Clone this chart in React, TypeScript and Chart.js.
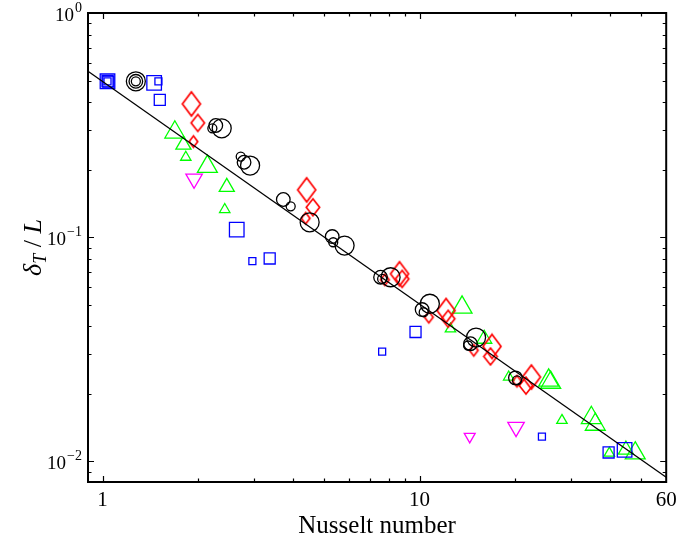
import React, { useEffect, useRef } from 'react';
import { Chart, registerables } from 'chart.js';

Chart.register(...registerables);

// Nusselt number (x) vs. delta_T / L (y)
const squaresSmall: [number, number][] = [
  [1.037, 0.496], [1.501, 0.496], [2.97, 0.0782], [7.623, 0.0309], [24.33, 0.01292],
];
const squaresMedium: [number, number][] = [
  [1.037, 0.496], [1.043, 0.494], [1.516, 0.41], [3.368, 0.0804], [9.714, 0.0378], [39.49, 0.01097],
];
const squaresLarge: [number, number][] = [
  [1.037, 0.496], [1.455, 0.488], [2.651, 0.1082], [44.35, 0.01127],
];

const circlesSmall: [number, number][] = [
  [1.274, 0.496], [2.221, 0.306], [2.729, 0.229], [3.923, 0.1374], [5.343, 0.095],
  [7.623, 0.0652], [10.31, 0.0463], [14.23, 0.0329], [20.3, 0.023],
];
const circlesMedium: [number, number][] = [
  [1.274, 0.496], [2.277, 0.315], [2.796, 0.216], [3.718, 0.1473], [5.304, 0.1007],
  [7.535, 0.0663], [10.19, 0.0476], [14.48, 0.0335], [20.07, 0.0236],
];
const circlesLarge: [number, number][] = [
  [1.274, 0.496], [2.377, 0.306], [2.921, 0.2088], [4.502, 0.1166], [5.803, 0.0918],
  [8.105, 0.0663], [10.78, 0.0505], [15.08, 0.0357],
];

const diamondsSmall: [number, number][] = [
  [1.935, 0.267], [4.374, 0.1215], [7.775, 0.0646], [10.7, 0.044], [14.83, 0.0313], [20.3, 0.0228],
];
const diamondsMedium: [number, number][] = [
  [1.998, 0.3236], [4.611, 0.136], [8.814, 0.0652], [12.31, 0.0433], [16.74, 0.0294], [21.67, 0.0218],
];
const diamondsLarge: [number, number][] = [
  [1.907, 0.3933], [4.406, 0.1627], [8.65, 0.0687], [12.13, 0.0471], [16.93, 0.0326], [22.54, 0.0238],
];

const trianglesSmall: [number, number][] = [
  [1.831, 0.2274], [2.43, 0.1329], [12.52, 0.039], [19.11, 0.0238], [28.14, 0.01524], [39.69, 0.01089],
];
const trianglesMedium: [number, number][] = [
  [1.8, 0.2582], [2.466, 0.1674], [16.0, 0.0352], [44.77, 0.01128],
];
const trianglesLarge: [number, number][] = [
  [1.691, 0.2938], [2.142, 0.2066], [13.62, 0.0487], [25.55, 0.023], [25.93, 0.0225],
  [34.83, 0.01566], [35.85, 0.01462], [47.92, 0.01089],
];

const downTrianglesSmall: [number, number][] = [[14.4, 0.01292]];
const downTrianglesLarge: [number, number][] = [[1.945, 0.1822], [20.16, 0.01422]];

const fitNu = [0.9, 60];
const fitDelta = [0.55, 0.0085];

const xTickValues = [1, 2, 3, 4, 5, 6, 7, 8, 9, 10, 20, 30, 40, 50, 60];
const xTickLabels = [1, 10, 60];
const xMajorTicks = [1, 10];
const yMajorTicks = [0.01, 0.1, 1];
const yMinorTicks = [0.009, 0.02, 0.03, 0.04, 0.05, 0.06, 0.07, 0.08, 0.09, 0.2, 0.3, 0.4, 0.5, 0.6, 0.7, 0.8, 0.9];
const yTickLabels = [
  { value: 1, base: '10', exp: '0' },
  { value: 0.1, base: '10', exp: '\u22121' },
  { value: 0.01, base: '10', exp: '\u22122' },
];

const FONT = '"Liberation Serif", "Times New Roman", Times, serif';

function toPoints(arr: [number, number][]) {
  return arr.map(([x, y]) => ({ x, y }));
}

function makeDiamond(a: number, b: number, color: string, lw: number) {
  const c = document.createElement('canvas');
  const w = Math.ceil(2 * a + lw + 2);
  const h = Math.ceil(2 * b + lw + 2);
  c.width = w;
  c.height = h;
  const g = c.getContext('2d')!;
  g.strokeStyle = color;
  g.lineWidth = lw;
  const cx = w / 2;
  const cy = h / 2;
  g.beginPath();
  g.moveTo(cx, cy - b);
  g.lineTo(cx + a, cy);
  g.lineTo(cx, cy + b);
  g.lineTo(cx - a, cy);
  g.closePath();
  g.stroke();
  return c;
}

const framePlugin = {
  id: 'framePlugin',
  afterDraw(chart: any) {
    const { ctx, chartArea: a, scales } = chart;
    const x = scales.x;
    const y = scales.y;
    ctx.save();
    ctx.strokeStyle = '#000';
    ctx.lineWidth = 1.2;
    ctx.beginPath();
    for (const v of xTickValues) {
      if (v >= 60) continue;
      const p = Math.round(x.getPixelForValue(v)) + 0.5;
      const len = xMajorTicks.includes(v) ? 6 : 3.5;
      ctx.moveTo(p, a.bottom);
      ctx.lineTo(p, a.bottom - len);
      ctx.moveTo(p, a.top);
      ctx.lineTo(p, a.top + len);
    }
    for (const v of [...yMajorTicks, ...yMinorTicks]) {
      if (v >= 1) continue;
      const p = Math.round(y.getPixelForValue(v)) + 0.5;
      const len = yMajorTicks.includes(v) ? 6 : 3.5;
      ctx.moveTo(a.left, p);
      ctx.lineTo(a.left + len, p);
      ctx.moveTo(a.right, p);
      ctx.lineTo(a.right - len, p);
    }
    ctx.stroke();

    ctx.lineWidth = 2;
    ctx.strokeRect(a.left, a.top, a.right - a.left, a.bottom - a.top);

    // y tick labels with superscripts
    ctx.fillStyle = '#000';
    ctx.textBaseline = 'alphabetic';
    ctx.textAlign = 'left';
    const right = a.left - 6;
    for (const t of yTickLabels) {
      const py = y.getPixelForValue(t.value);
      ctx.font = `14px ${FONT}`;
      const ws = ctx.measureText(t.exp).width;
      ctx.font = `19px ${FONT}`;
      const wb = ctx.measureText(t.base).width;
      ctx.fillText(t.base, right - ws - wb - 1, py + 8);
      ctx.font = `14px ${FONT}`;
      ctx.fillText(t.exp, right - ws, py - 1);
    }

    // y axis title: delta_T / L
    const cy = (a.top + a.bottom) / 2;
    ctx.translate(32, cy);
    ctx.rotate(-Math.PI / 2);
    const parts = [
      { text: '\u03b4', font: `italic 26px ${FONT}`, dy: 0 },
      { text: 'T', font: `italic 18px ${FONT}`, dy: 5 },
      { text: ' / ', font: `26px ${FONT}`, dy: 0 },
      { text: 'L', font: `italic 26px ${FONT}`, dy: 0 },
    ];
    let total = 0;
    for (const p of parts) {
      ctx.font = p.font;
      total += ctx.measureText(p.text).width;
    }
    let cx = -total / 2;
    for (const p of parts) {
      ctx.font = p.font;
      ctx.fillText(p.text, cx, 9 + p.dy);
      cx += ctx.measureText(p.text).width;
    }
    ctx.restore();
  },
};

export default function App() {
  const ref = useRef<HTMLCanvasElement | null>(null);

  useEffect(() => {
    const canvas = ref.current;
    if (!canvas) return;
    const blue = '#0000ff';
    const black = '#000000';
    const red = '#ff0000';
    const green = '#00ff00';
    const magenta = '#ff00ff';
    const lw = 1.3;
    const dlw = 1.7;

    const marker = (data: [number, number][], color: string, style: any, radius: number, rotation = 0) => ({
      type: 'scatter' as const,
      data: toPoints(data),
      pointStyle: style,
      pointRadius: radius,
      pointRotation: rotation,
      pointBorderColor: color,
      pointBackgroundColor: 'rgba(0,0,0,0)',
      pointBorderWidth: lw,
      showLine: false,
    });

    const chart = new Chart(canvas, {
      type: 'scatter',
      data: {
        datasets: [
          {
            type: 'line' as const,
            data: fitNu.map((x, i) => ({ x, y: fitDelta[i] })),
            borderColor: black,
            borderWidth: 1.3,
            pointRadius: 0,
            fill: false,
            tension: 0,
          } as any,
          marker(squaresSmall, blue, 'rect', 4.95),
          marker(squaresMedium, blue, 'rect', 7.8),
          marker(squaresLarge, blue, 'rect', 10.3),
          marker(circlesSmall, black, 'circle', 4.5),
          marker(circlesMedium, black, 'circle', 6.8),
          marker(circlesLarge, black, 'circle', 9.5),
          marker(diamondsSmall, red, makeDiamond(4.3, 5.7, red, dlw), 6),
          marker(diamondsMedium, red, makeDiamond(6.7, 8.5, red, dlw), 8),
          marker(diamondsLarge, red, makeDiamond(9, 12, red, dlw), 11),
          marker(trianglesSmall, green, 'triangle', 6),
          marker(trianglesMedium, green, 'triangle', 8.7),
          marker(trianglesLarge, green, 'triangle', 11.5),
          marker(downTrianglesSmall, magenta, 'triangle', 6.3, 180),
          marker(downTrianglesLarge, magenta, 'triangle', 9.5, 180),
        ],
      },
      options: {
        responsive: false,
        animation: false,
        layout: { padding: { top: 13, right: 11, left: 0, bottom: 0 } },
        plugins: {
          legend: { display: false },
          tooltip: { enabled: false },
        },
        scales: {
          x: {
            type: 'logarithmic',
            min: 0.9,
            max: 60,
            bounds: 'data',
            grid: { display: false, drawTicks: false },
            border: { display: false },
            afterBuildTicks: (s: any) => {
              s.ticks = xTickValues.map((v) => ({ value: v }));
            },
            afterFit: (s: any) => {
              s.height = 60;
              s.paddingLeft = 0;
              s.paddingRight = 0;
            },
            ticks: {
              autoSkip: false,
              maxRotation: 0,
              minRotation: 0,
              padding: 6,
              color: '#000',
              font: { family: FONT, size: 21 },
              callback: (v: any) => (xTickLabels.includes(Number(v)) ? String(v) : ''),
            },
            title: {
              display: true,
              text: 'Nusselt number',
              color: '#000',
              font: { family: FONT, size: 25 },
              padding: { top: 0, bottom: 1 },
            },
          },
          y: {
            type: 'logarithmic',
            min: 0.0081,
            max: 1,
            bounds: 'data',
            grid: { display: false, drawTicks: false },
            border: { display: false },
            ticks: { display: false },
            afterFit: (s: any) => {
              s.width = 88;
              s.paddingTop = 0;
              s.paddingBottom = 0;
            },
          },
        },
      },
      plugins: [framePlugin],
    } as any);

    return () => chart.destroy();
  }, []);

  return (
    <div style={{ position: 'fixed', left: 0, top: 0, width: 679, height: 542, background: '#fff' }}>
      <canvas ref={ref} width={679} height={542} style={{ display: 'block', width: 679, height: 542 }} />
    </div>
  );
}
